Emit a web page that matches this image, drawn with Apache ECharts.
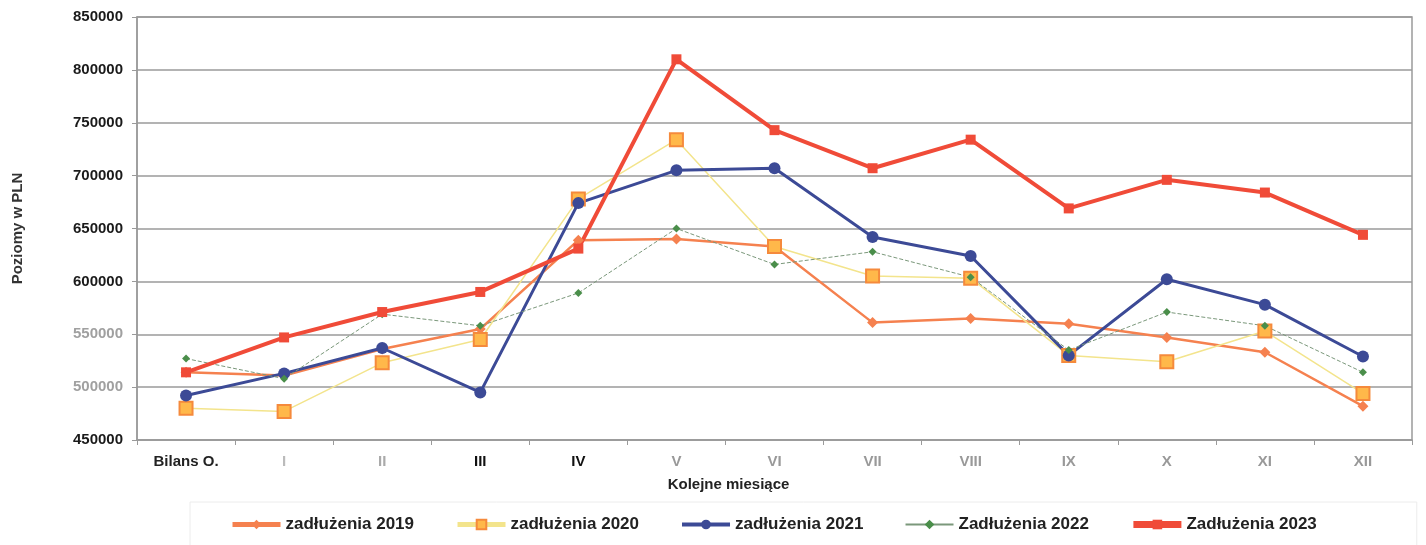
<!DOCTYPE html>
<html>
<head>
<meta charset="utf-8">
<script src="https://cdn.jsdelivr.net/npm/echarts@6/dist/echarts.min.js"></script>
<style>html,body{margin:0;padding:0;background:#fff;}#c{width:1426px;height:545px;}</style>
</head>
<body>
<div id="c"></div>
<script>
const categories = ['Bilans O.', 'I', 'II', 'III', 'IV', 'V', 'VI', 'VII', 'VIII', 'IX', 'X', 'XI', 'XII'];
const z2019 = [514000, 511000, 536000, 555000, 639000, 640000, 633000, 561000, 565000, 560000, 547000, 533000, 482000];
const z2020 = [480000, 477000, 523000, 545000, 678000, 734000, 633000, 605000, 603000, 530000, 524000, 553000, 494000];
const z2021 = [492000, 513000, 537000, 495000, 674000, 705000, 707000, 642000, 624000, 530000, 602000, 578000, 529000];
const z2022 = [527000, 508000, 569000, 558000, 589000, 650000, 616000, 628000, 604000, 535000, 571000, 558000, 514000];
const z2023 = [514000, 547000, 571000, 590000, 631000, 810000, 743000, 707000, 734000, 669000, 696000, 684000, 644000];
const seriesNames = ['zadłużenia 2019', 'zadłużenia 2020', 'zadłużenia 2021', 'Zadłużenia 2022', 'Zadłużenia 2023'];

const FONT = '"Liberation Sans", Arial, sans-serif';
const xLabelColors = ['#222', '#bbb', '#aaa', '#111', '#111', '#999', '#999', '#999', '#999', '#999', '#999', '#999', '#999'];

const chart = echarts.init(document.getElementById('c'), null, {renderer: 'canvas'});
chart.setOption({
  animation: false,
  backgroundColor: '#fff',
  grid: {left: 137, right: 14, top: 17, bottom: 105, show: true, borderColor: '#9a9a9a', borderWidth: 1.5},
  xAxis: {
    type: 'category',
    data: categories,
    boundaryGap: true,
    name: 'Kolejne miesiące',
    nameLocation: 'middle',
    nameGap: 37,
    nameTextStyle: {fontFamily: FONT, fontSize: 15, fontWeight: 'bold', color: '#222', padding: [0, 92, 0, 0]},
    axisLine: {lineStyle: {color: '#9a9a9a', width: 1.5}},
    axisTick: {show: true, inside: false, length: 5, lineStyle: {color: '#9a9a9a'}, interval: 0},
    axisLabel: {
      interval: 0, margin: 14, fontFamily: FONT, fontSize: 15, fontWeight: 'bold',
      color: function (v, i) { return xLabelColors[i] || '#999'; }
    },
    splitLine: {show: false}
  },
  yAxis: {
    type: 'value',
    min: 450000, max: 850000, interval: 50000,
    name: 'Poziomy w PLN',
    nameLocation: 'middle',
    nameGap: 112,
    nameRotate: 90,
    nameTextStyle: {fontFamily: FONT, fontSize: 15, fontWeight: 'bold', color: '#333'},
    axisLine: {show: true, lineStyle: {color: '#9a9a9a', width: 1.5}},
    axisTick: {show: true, length: 5, lineStyle: {color: '#9a9a9a'}},
    axisLabel: {
      margin: 14, fontFamily: FONT, fontSize: 15, fontWeight: 'bold',
      formatter: function (v) { return String(v); },
      color: function (v) { return (v == 550000 || v == 500000) ? '#a0a0a0' : '#1a1a1a'; }
    },
    splitLine: {show: true, lineStyle: {color: '#9a9a9a', width: 1.5}}
  },
  legend: {
    left: 190, bottom: -10,
    padding: [14, 100, 22, 40],
    borderColor: '#ececec', borderWidth: 1,
    itemGap: 41, itemWidth: 48, itemHeight: 12,
    textStyle: {fontFamily: FONT, fontSize: 17, fontWeight: 'bold', color: '#222'},
    data: [
      {name: seriesNames[0], lineStyle: {width: 5}},
      {name: seriesNames[1], lineStyle: {width: 5}},
      {name: seriesNames[2], lineStyle: {width: 4}},
      {name: seriesNames[3], lineStyle: {width: 2, type: 'solid'}},
      {name: seriesNames[4], lineStyle: {width: 7}}
    ]
  },
  series: [
    {
      name: seriesNames[0], type: 'line', data: z2019,
      symbol: 'diamond', symbolSize: 11,
      lineStyle: {color: '#F5814F', width: 2.5},
      itemStyle: {color: '#F5814F'}
    },
    {
      name: seriesNames[1], type: 'line', data: z2020,
      symbol: 'rect', symbolSize: 13,
      lineStyle: {color: '#F3E48C', width: 1.5},
      itemStyle: {color: '#FFB84A', borderColor: '#F58A3C', borderWidth: 2}
    },
    {
      name: seriesNames[2], type: 'line', data: z2021,
      symbol: 'circle', symbolSize: 12,
      lineStyle: {color: '#3C4A96', width: 3},
      itemStyle: {color: '#3C4A96'}
    },
    {
      name: seriesNames[3], type: 'line', data: z2022,
      symbol: 'diamond', symbolSize: 8,
      lineStyle: {color: '#7B987B', width: 1, type: [4, 2]},
      itemStyle: {color: '#4A8E4A'}
    },
    {
      name: seriesNames[4], type: 'line', data: z2023,
      symbol: 'rect', symbolSize: 10,
      lineStyle: {color: '#F04B38', width: 4},
      itemStyle: {color: '#F04B38'}
    }
  ]
});
</script>
</body>
</html>
